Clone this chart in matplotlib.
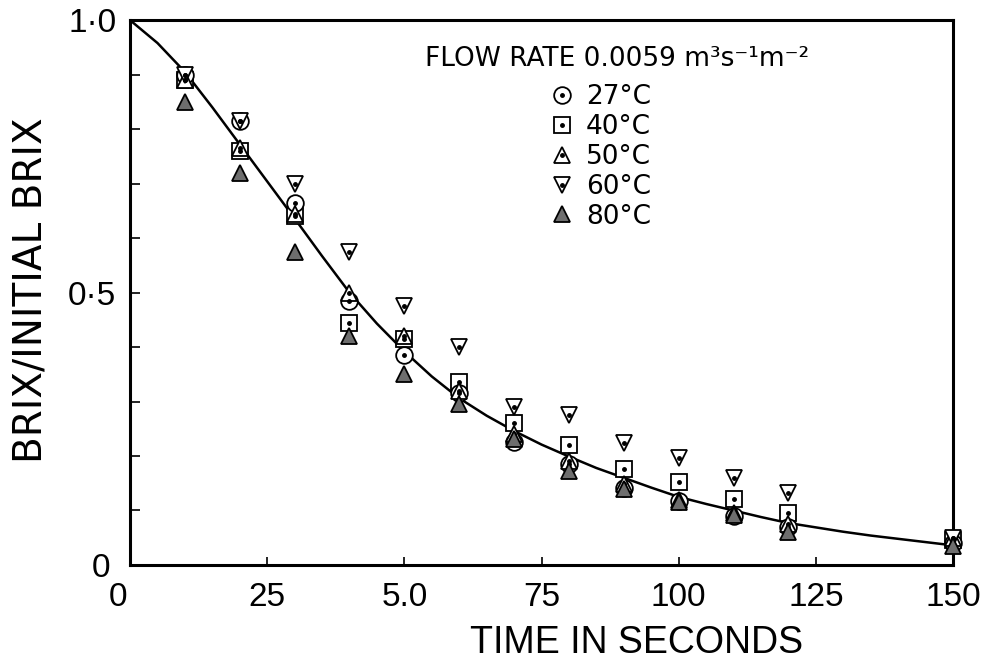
import matplotlib
matplotlib.use("Agg")
import matplotlib.pyplot as plt
from matplotlib.lines import Line2D
from matplotlib.transforms import ScaledTranslation

# measured points (time in s, brix / initial brix)
time = [10, 20, 30, 40, 50, 60, 70, 80, 90, 100, 110, 120, 150]
brix_27 = [0.90, 0.815, 0.665, 0.485, 0.385, 0.315, 0.225, 0.185, 0.142, 0.117, 0.090, 0.070, 0.040]
brix_40 = [0.89, 0.760, 0.640, 0.445, 0.415, 0.335, 0.260, 0.220, 0.177, 0.152, 0.122, 0.095, 0.045]
brix_50 = [0.89, 0.765, 0.645, 0.500, 0.420, 0.320, 0.240, 0.190, 0.148, 0.120, 0.095, 0.075, 0.050]
brix_60 = [0.90, 0.815, 0.700, 0.575, 0.475, 0.400, 0.290, 0.275, 0.223, 0.196, 0.159, 0.132, 0.050]
brix_80 = [0.85, 0.720, 0.575, 0.420, 0.350, 0.295, 0.232, 0.172, 0.140, 0.115, 0.092, 0.060, 0.035]

# fitted curve
curve_t = [0, 5, 10, 15, 20, 25, 30, 35, 40, 45, 50, 55, 60, 65, 70, 75, 80, 85,
           90, 95, 100, 105, 110, 115, 120, 125, 130, 135, 140, 145, 150]
curve_b = [1.0, 0.958, 0.905, 0.84, 0.772, 0.704, 0.636, 0.567, 0.50, 0.443, 0.392,
           0.346, 0.306, 0.274, 0.246, 0.221, 0.199, 0.178, 0.16, 0.142, 0.125, 0.112,
           0.10, 0.088, 0.077, 0.069, 0.061, 0.054, 0.048, 0.042, 0.036]

x_ticks = [0, 25, 50, 75, 100, 125, 150]
x_ticklabels = ["0", "25", "5.0", "75", "100", "125", "150"]
y_ticks = [0, 0.5, 1.0]
y_ticklabels = ["0", "0·5", "1·0"]
labels = ["27°C", "40°C", "50°C", "60°C", "80°C"]

fig = plt.figure(figsize=(9.88, 6.71), dpi=100)
ax = fig.add_axes([0.1316, 0.158, 0.833, 0.812])

ax.plot(curve_t, curve_b, color="black", lw=1.8, zorder=2)

ms = 12
mew = 1.3
open_kw = dict(ls="none", mfc="white", mec="black", mew=mew, ms=ms, clip_on=False, zorder=3)
dot_kw = dict(ls="none", marker="o", color="black", ms=2.5, clip_on=False, zorder=4)

ax.plot(time, brix_40, marker="s", **open_kw)
ax.plot(time, brix_40, **dot_kw)
ax.plot(time, brix_27, marker="o", **open_kw)
ax.plot(time, brix_27, **dot_kw)
ax.plot(time, brix_50, marker="^", **open_kw)
ax.plot(time, brix_50, **dot_kw)
ax.plot(time, brix_60, marker="v", **open_kw)
ax.plot(time, brix_60, **dot_kw)
ax.plot(time, brix_80, ls="none", marker="^", mfc="#6e6e6e", mec="black", mew=mew,
        ms=ms, clip_on=False, zorder=5)

ax.set_xlim(0, 150)
ax.set_ylim(0, 1.0)

for s in ax.spines.values():
    s.set_linewidth(2.2)

ax.set_xticks(x_ticks)
ax.set_xticklabels(x_ticklabels, fontsize=24, family="Liberation Sans")
ax.set_yticks(y_ticks)
ax.set_yticklabels(y_ticklabels, fontsize=24, family="Liberation Sans")
ax.set_yticks([i / 10 for i in range(11)], minor=True)
ax.tick_params(axis="x", direction="in", length=6, width=1.2, pad=12)
ax.tick_params(axis="y", which="both", direction="in", length=7, width=1.2, pad=10)
ax.yaxis.get_major_ticks()[0].set_pad(14)

# the x "0" sits left of its tick in the original
lbl0 = ax.get_xticklabels()[0]
lbl0.set_transform(lbl0.get_transform() + ScaledTranslation(-0.12, 0, fig.dpi_scale_trans))

ax.set_xlabel("TIME IN SECONDS", fontsize=27, family="Liberation Sans")
ax.xaxis.set_label_coords(0.616, -0.143)
ax.xaxis.label.set_va("center")
ax.set_ylabel("BRIX/INITIAL BRIX", fontsize=28)
ax.yaxis.set_label_coords(-0.1215, 0.505)
ax.yaxis.label.set_va("center")

# legend
ax.text(0.359, 0.929, "FLOW RATE 0.0059 m³s⁻¹m⁻²", transform=ax.transAxes,
        fontsize=19, va="center", ha="left")

dot = Line2D([], [], ls="none", marker="o", color="black", ms=2.5)
handles = [
    (Line2D([], [], ls="none", marker="o", mfc="white", mec="black", mew=mew, ms=ms), dot),
    (Line2D([], [], ls="none", marker="s", mfc="white", mec="black", mew=mew, ms=ms), dot),
    (Line2D([], [], ls="none", marker="^", mfc="white", mec="black", mew=mew, ms=ms), dot),
    (Line2D([], [], ls="none", marker="v", mfc="white", mec="black", mew=mew, ms=ms), dot),
    Line2D([], [], ls="none", marker="^", mfc="#6e6e6e", mec="black", mew=mew, ms=ms),
]
ax.legend(handles, labels, loc="upper left", bbox_to_anchor=(0.509, 0.883),
          frameon=False, fontsize=19, handlelength=1.0, handletextpad=0.4,
          labelspacing=0.15, borderpad=0, borderaxespad=0)

plt.savefig("out.png", dpi=100)
